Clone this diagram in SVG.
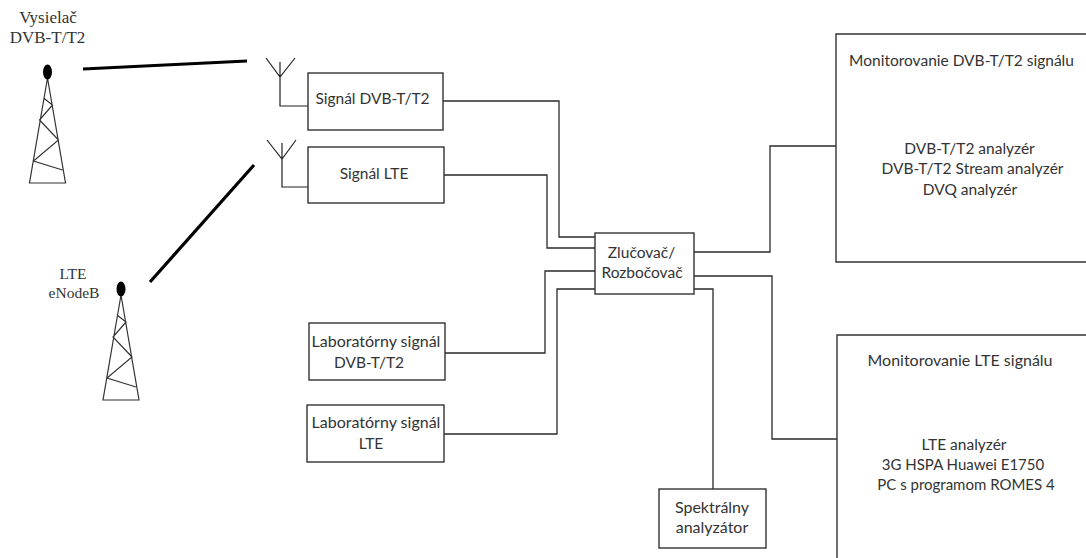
<svg xmlns="http://www.w3.org/2000/svg" width="1086" height="558" viewBox="0 0 1086 558">
<style>
.box{fill:#fff;stroke:#333;stroke-width:1.4}
.c{fill:none;stroke:#2a2a2a;stroke-width:1.3}
.l{fill:none;stroke:#222;stroke-width:1.2}
.t{fill:none;stroke:#333;stroke-width:1.2}
.beam{fill:none;stroke:#000;stroke-width:3.2}
text{font-family:"Lato","Open Sans",sans-serif;font-size:15.5px;fill:#333;text-anchor:middle}
.w{font-size:16px}
.n{font-size:15px}
.s{font-family:"Liberation Serif",serif;font-size:17px;fill:#333}
.s2{font-family:"Liberation Serif",serif;font-size:15.5px;fill:#333}
</style>
<defs>
<g id="tower">
<path class="t" d="M0 6 L-18 111 H18 L0 6 M-4 26 L5 33 L-8 48 L11 68 L-14 89 L15 98"/>
<ellipse cx="0" cy="0" rx="4.5" ry="7.5" fill="#000"/>
</g>
</defs>
<g id="connectors">
<path class="beam" d="M83 69 L247 61"/>
<path class="beam" d="M150 282 L254 165"/>
<path class="l" d="M266 58 L280 77 L295 58 M280 62 V106 H308"/>
<path class="l" d="M267 140 L282 159 L296 140 M282 143 V187 H308"/>
<path class="c" d="M443 101 H559 V237 H595"/>
<path class="c" d="M444 175 H547 V248 H595"/>
<path class="c" d="M445 353 H545 V271 H595"/>
<path class="c" d="M444 434 H557 V289 H595"/>
<path class="c" d="M694 252 H770 V146 H836"/>
<path class="c" d="M694 276 H772 V439 H837"/>
<path class="c" d="M694 289 H713 V489"/>
</g>
<g id="tower-dvb"><use href="#tower" x="47.5" y="72"/><text class="s" x="48" y="23">Vysielač</text><text class="s" x="47.500" y="43">DVB-T/T2</text></g>
<g id="tower-lte"><use href="#tower" x="121" y="289"/><text class="s2" x="73" y="279">LTE</text><text class="s2" x="74" y="298">eNodeB</text></g>
<g id="signal-dvb"><rect class="box" x="308" y="73" width="135" height="57"/><text x="372.500" y="104">Signál DVB-T/T2</text></g>
<g id="signal-lte"><rect class="box" x="308" y="147" width="136" height="56"/><text x="374" y="179">Signál LTE</text></g>
<g id="combiner"><rect class="box" x="595" y="233" width="99" height="61"/><text x="641.500" y="258">Zlučovač/</text><text x="642" y="278">Rozbočovač</text></g>
<g id="lab-dvb"><rect class="box" x="309" y="323" width="136" height="57"/><text class="w" x="376" y="347">Laboratórny signál</text><text x="369" y="368">DVB-T/T2</text></g>
<g id="lab-lte"><rect class="box" x="307" y="405" width="137" height="57"/><text class="w" x="376" y="428">Laboratórny signál</text><text x="371" y="449">LTE</text></g>
<g id="spectrum"><rect class="box" x="659" y="489" width="107" height="59"/><text class="w" x="712" y="513">Spektrálny</text><text class="w" x="712" y="533">analyzátor</text></g>
<g id="monitor-dvb"><path class="box" d="M1086 34 H836 V262 H1086"/><text x="961.500" y="66">Monitorovanie DVB-T/T2 signálu</text><text x="969.500" y="154">DVB-T/T2 analyzér</text><text x="972.500" y="174">DVB-T/T2 Stream analyzér</text><text x="970" y="195">DVQ analyzér</text></g>
<g id="monitor-lte"><path class="box" d="M1086 335 H837 V558"/><text class="w" x="960" y="366">Monitorovanie LTE signálu</text><text x="964" y="450">LTE analyzér</text><text class="n" x="963" y="470">3G HSPA Huawei E1750</text><text class="n" x="966" y="490">PC s programom ROMES 4</text></g>
</svg>
